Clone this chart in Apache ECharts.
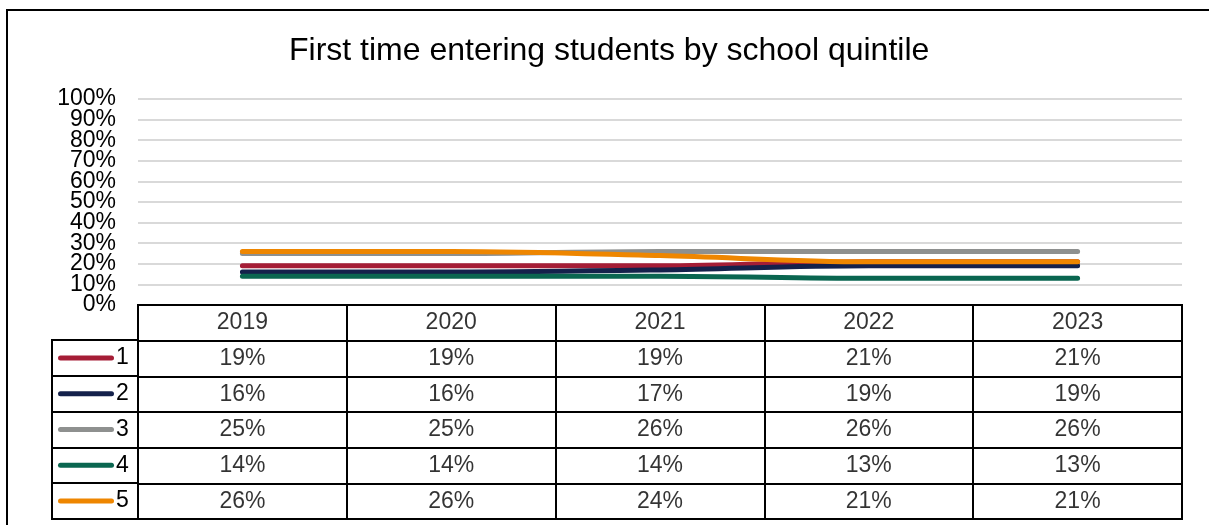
<!DOCTYPE html>
<html>
<head>
<meta charset="utf-8">
<script src="https://cdn.jsdelivr.net/npm/echarts@6/dist/echarts.min.js"></script>
<style>
html,body{margin:0;padding:0;background:#fff;}
#c{width:1209px;height:525px;}
</style>
</head>
<body>
<div id="c"></div>
<script>
const years = ['2019', '2020', '2021', '2022', '2023'];
const quintiles = ['1', '2', '3', '4', '5'];
const q1 = [0.19, 0.19, 0.19, 0.21, 0.21];
const q2 = [0.16, 0.16, 0.17, 0.19, 0.19];
const q3 = [0.25, 0.25, 0.26, 0.26, 0.26];
const q4 = [0.14, 0.14, 0.14, 0.13, 0.13];
const q5 = [0.26, 0.26, 0.24, 0.21, 0.21];
const yTickLabels = ['0%', '10%', '20%', '30%', '40%', '50%', '60%', '70%', '80%', '90%', '100%'];
const titleText = 'First time entering students by school quintile';

const seriesValues = [q1, q2, q3, q4, q5];
const colors = ['#A51D36', '#14214B', '#8E908F', '#0A6650', '#EE8600'];
const FONT = '"Liberation Sans", Arial, sans-serif';
const pct = v => Math.round(v * 100) + '%';

const rowCats = ['head'].concat(quintiles);
const cellData = [];
years.forEach((y) => cellData.push([y, 'head', y]));
seriesValues.forEach((vals, r) => {
  vals.forEach((v, c) => cellData.push([years[c], quintiles[r], pct(v)]));
});

const rich = { n: { fontSize: 23, color: '#000', fontFamily: FONT, padding: [0, 0, 0, 2] } };
colors.forEach((col, i) => {
  rich['k' + i] = { backgroundColor: col, width: 56, height: 5, borderRadius: 3 };
});

const chart = echarts.init(document.getElementById('c'), null, { renderer: 'canvas' });
chart.setOption({
  animation: false,
  backgroundColor: '#fff',
  textStyle: { fontFamily: FONT },
  title: {
    text: titleText,
    left: 284,
    top: 30,
    textStyle: { fontSize: 32, fontWeight: 'normal', color: '#000', fontFamily: FONT }
  },
  graphic: [{
    type: 'rect', silent: true, z: 100,
    shape: { x: 7, y: 10, width: 1400, height: 800 },
    style: { fill: 'none', stroke: '#000', lineWidth: 2 }
  }],
  grid: [
    { left: 138, right: 27, top: 99, bottom: 220 },
    { left: 138, right: 27, top: 305, bottom: 6, show: true, borderColor: '#000', borderWidth: 2, backgroundColor: 'transparent' },
    { left: 52, right: 1071, top: 340, bottom: 6, show: true, borderColor: '#000', borderWidth: 2, backgroundColor: 'transparent' }
  ],
  xAxis: [
    { gridIndex: 0, type: 'category', data: years, boundaryGap: true, show: false },
    { gridIndex: 1, type: 'category', data: years, boundaryGap: true,
      axisLine: { show: false }, axisTick: { show: false }, axisLabel: { show: false },
      splitLine: { show: true, interval: 0, lineStyle: { color: '#000', width: 2 } } },
    { gridIndex: 2, type: 'value', min: 0, max: 1, show: false }
  ],
  yAxis: [
    { gridIndex: 0, type: 'value', min: 0, max: 1, interval: 0.1,
      axisLine: { show: false }, axisTick: { show: false }, axisLabel: { show: false },
      splitLine: { lineStyle: { color: '#D9D9D9', width: 2 } } },
    { gridIndex: 1, type: 'category', data: rowCats, inverse: true, boundaryGap: true,
      axisLine: { show: false }, axisTick: { show: false }, axisLabel: { show: false },
      splitLine: { show: true, interval: 0, lineStyle: { color: '#000', width: 2 } } },
    { gridIndex: 2, type: 'category', data: quintiles, inverse: true, boundaryGap: true, position: 'left',
      axisLine: { show: false }, axisTick: { show: false },
      axisLabel: { inside: true, margin: 6, align: 'left',
        formatter: (v, i) => '{k' + i + '|}{n|' + v + '}', rich: rich },
      splitLine: { show: true, interval: 0, lineStyle: { color: '#000', width: 2 } } },
    { gridIndex: 0, type: 'category', data: yTickLabels, boundaryGap: false, position: 'left',
      axisLine: { show: false }, axisTick: { show: false }, splitLine: { show: false },
      axisLabel: { interval: 0, fontSize: 23, color: '#000', margin: 22, fontFamily: FONT,
        lineHeight: 14, padding: [9, 0, 0, 0], hideOverlap: false } }
  ],
  series: seriesValues.map((vals, i) => ({
    name: quintiles[i],
    type: 'line',
    xAxisIndex: 0, yAxisIndex: 0,
    data: vals,
    smooth: 0.35,
    symbol: 'none',
    lineStyle: { color: colors[i], width: 5, cap: 'round', join: 'round' },
    z: 2 + i
  })).concat([{
    type: 'scatter',
    xAxisIndex: 1, yAxisIndex: 1,
    data: cellData,
    symbolSize: 1,
    itemStyle: { color: 'rgba(0,0,0,0)' },
    label: { show: true, position: 'inside', formatter: p => p.data[2],
      fontSize: 23, color: '#000', fontFamily: FONT },
    silent: true
  }])
});
</script>
</body>
</html>
